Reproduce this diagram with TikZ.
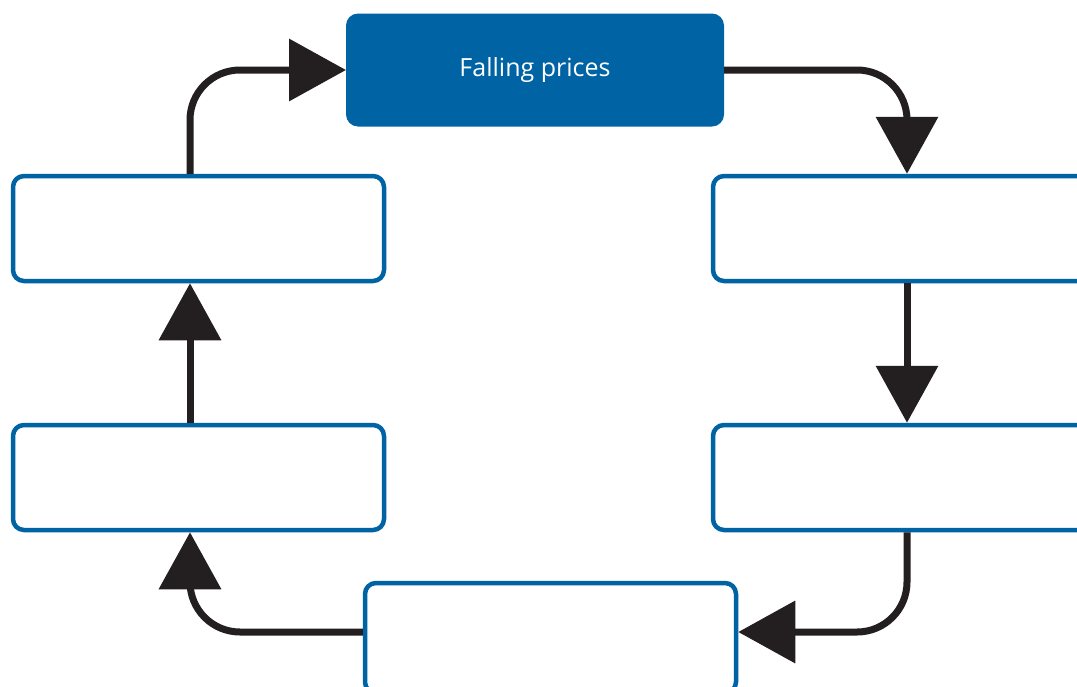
\documentclass[tikz,border=0pt]{standalone}
\usepackage{fontspec}
\newfontfamily\labelfont{Open Sans}
\usetikzlibrary{arrows.meta}
\definecolor{boxblue}{HTML}{0063A3}
\definecolor{arrowblack}{HTML}{231F20}
\tikzset{
  outlinebox/.style={draw=boxblue, line width=4.5pt, rounded corners=11pt,
    minimum width=371pt, minimum height=105pt, inner sep=0pt, outer sep=2.25pt, fill=white},
  filledbox/.style={fill=boxblue, rounded corners=12pt, minimum width=378pt,
    minimum height=113pt, inner sep=0pt, outer sep=0pt, text=white,
    font=\labelfont\fontsize{25}{29}\selectfont},
  flow/.style={draw=arrowblack, line width=7pt, rounded corners=50pt,
    -{Triangle[length=57pt,width=61pt]}, arrowblack},
}
\begin{document}
\begin{tikzpicture}[x=1pt,y=-1pt]
\clip (0,0) rectangle (1077,686);
\fill[white] (0,0) rectangle (1077,686);
\node[filledbox] (tb) at (535,70) {Falling prices};
\node[outlinebox] (lt) at (198.5,228.5) {};
\node[outlinebox] (lb) at (198.5,477.5) {};
\node[outlinebox, minimum width=388pt] (rt) at (907,228.5) {};
\node[outlinebox, minimum width=388pt] (rb) at (907,477.5) {};
\node[outlinebox, minimum height=110pt] (bt) at (550.5,638) {};
\coordinate (ltn) at ([xshift=-8.5pt]lt.north);
\coordinate (lts) at ([xshift=-8.5pt]lt.south);
\coordinate (lbn) at ([xshift=-8.5pt]lb.north);
\coordinate (lbs) at ([xshift=-8.5pt]lb.south);
\coordinate (bte) at ([yshift=6pt]bt.east);
\coordinate (btw) at ([yshift=6pt]bt.west);
\draw[flow] (ltn) |- (tb.west);
\draw[flow] (tb.east) -| (rt.north);
\draw[flow] (rt.south) -- (rb.north);
\draw[flow] (rb.south) |- (bte);
\draw[flow] (btw) -| (lbs);
\draw[flow] (lbn) -- (lts);
\end{tikzpicture}
\end{document}
